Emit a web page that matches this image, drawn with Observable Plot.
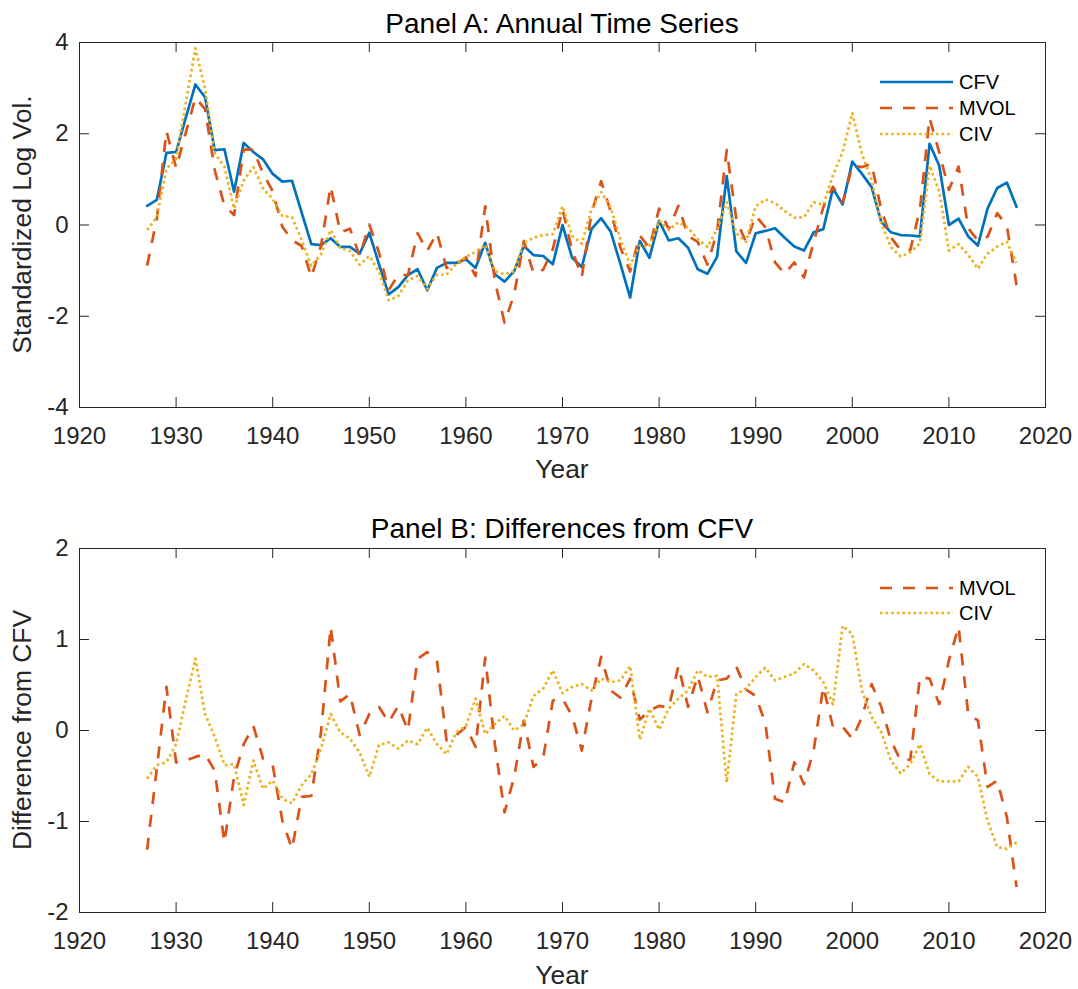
<!DOCTYPE html>
<html>
<head>
<meta charset="utf-8">
<script src="https://cdn.jsdelivr.net/npm/d3@7"></script>
<script src="https://cdn.jsdelivr.net/npm/@observablehq/plot@0.6"></script>
<style>
  html, body { margin: 0; padding: 0; background: #fff; }
  #chart svg { display: block; }
</style>
</head>
<body>
<div id="chart"></div>
<script>
// Annual observations, 1927–2017
const years = d3.range(1927, 2018);

// Panel A: standardized log volatility measures
const cfv = [
  0.42, 0.55, 1.58, 1.60, 2.35, 3.08, 2.80, 1.64, 1.66, 0.73,
  1.80, 1.60, 1.44, 1.12, 0.95, 0.97, 0.27, -0.42, -0.44, -0.29,
  -0.48, -0.48, -0.63, -0.17, -0.86, -1.52, -1.36, -1.10, -0.97, -1.43,
  -0.94, -0.83, -0.83, -0.75, -0.94, -0.39, -1.08, -1.24, -1.01, -0.46,
  -0.66, -0.68, -0.86, 0.00, -0.72, -0.92, -0.09, 0.15, -0.15, -0.86,
  -1.59, -0.35, -0.72, 0.09, -0.34, -0.29, -0.50, -0.97, -1.07, -0.70,
  1.07, -0.58, -0.83, -0.18, -0.13, -0.07, -0.28, -0.47, -0.56, -0.16,
  -0.09, 0.80, 0.45, 1.39, 1.12, 0.83, 0.07, -0.16, -0.22, -0.23,
  -0.25, 1.78, 1.30, 0.00, 0.14, -0.25, -0.45, 0.36, 0.81, 0.93,
  0.40
];
const mvol = [
  -0.89, 0.13, 2.06, 1.25, 2.02, 2.79, 2.54, 1.20, 0.43, 0.22,
  1.65, 1.65, 1.13, 0.74, -0.04, -0.33, -0.46, -1.14, -0.46, 0.85,
  -0.16, -0.08, -0.68, 0.01, -0.60, -1.43, -1.09, -1.10, -0.18, -0.57,
  -0.17, -0.94, -0.88, -0.71, -1.12, 0.41, -1.23, -2.14, -1.52, -0.35,
  -1.06, -0.98, -0.53, 0.35, -0.56, -1.14, 0.26, 0.96, 0.29, -0.50,
  -1.02, -0.23, -0.50, 0.36, -0.09, 0.42, -0.24, -0.37, -0.87, -0.15,
  1.64, 0.12, -0.38, 0.20, -0.05, -0.82, -1.07, -0.82, -1.15, -0.38,
  0.39, 0.84, 0.49, 1.30, 1.27, 1.34, 0.33, -0.27, -0.55, -0.55,
  0.34, 2.35, 1.59, 0.77, 1.28, -0.07, -0.34, -0.26, 0.26, -0.02,
  -1.32
];
const civ = [
  -0.11, 0.17, 1.23, 1.45, 2.68, 3.87, 2.98, 1.57, 1.28, 0.36,
  0.98, 1.27, 0.80, 0.57, 0.20, 0.17, -0.33, -0.90, -0.64, -0.11,
  -0.50, -0.57, -0.87, -0.68, -1.02, -1.65, -1.56, -1.21, -1.12, -1.40,
  -1.09, -1.09, -0.85, -0.70, -0.59, -0.43, -1.01, -1.08, -1.01, -0.39,
  -0.28, -0.22, -0.20, 0.41, -0.24, -0.41, 0.35, 0.72, 0.38, -0.31,
  -0.88, -0.45, -0.48, 0.10, -0.10, 0.06, -0.06, -0.31, -0.48, -0.10,
  0.50, -0.18, -0.37, 0.41, 0.56, 0.48, 0.31, 0.16, 0.17, 0.50,
  0.44, 1.09, 1.60, 2.45, 1.56, 0.98, 0.05, -0.49, -0.69, -0.60,
  -0.40, 1.30, 0.74, -0.56, -0.42, -0.65, -0.96, -0.63, -0.47, -0.37,
  -0.83
];

// Panel B: each measure minus CFV
const mvolDiff = [
  -1.31, -0.42, 0.48, -0.35, -0.33, -0.29, -0.26, -0.44, -1.23, -0.51,
  -0.15, 0.05, -0.31, -0.38, -0.99, -1.30, -0.73, -0.72, -0.02, 1.14,
  0.32, 0.40, -0.05, 0.18, 0.26, 0.09, 0.27, 0.00, 0.79, 0.86,
  0.77, -0.11, -0.05, 0.04, -0.18, 0.80, -0.15, -0.90, -0.51, 0.11,
  -0.40, -0.30, 0.33, 0.35, 0.16, -0.22, 0.35, 0.81, 0.44, 0.36,
  0.57, 0.12, 0.22, 0.27, 0.25, 0.71, 0.26, 0.60, 0.20, 0.55,
  0.57, 0.70, 0.45, 0.38, 0.08, -0.75, -0.79, -0.35, -0.59, -0.22,
  0.48, 0.04, 0.04, -0.09, 0.15, 0.51, 0.26, -0.11, -0.33, -0.32,
  0.59, 0.57, 0.29, 0.77, 1.14, 0.18, 0.11, -0.62, -0.55, -0.95,
  -1.72
];
const civDiff = [
  -0.53, -0.38, -0.35, -0.15, 0.33, 0.79, 0.18, -0.07, -0.38, -0.37,
  -0.82, -0.33, -0.64, -0.55, -0.75, -0.80, -0.60, -0.48, -0.20, 0.18,
  -0.02, -0.09, -0.24, -0.51, -0.16, -0.13, -0.20, -0.11, -0.15, 0.03,
  -0.15, -0.26, -0.02, 0.05, 0.35, -0.04, 0.07, 0.16, 0.00, 0.07,
  0.38, 0.46, 0.66, 0.41, 0.48, 0.51, 0.44, 0.57, 0.53, 0.55,
  0.71, -0.10, 0.24, 0.01, 0.24, 0.35, 0.44, 0.66, 0.59, 0.60,
  -0.57, 0.40, 0.46, 0.59, 0.69, 0.55, 0.59, 0.63, 0.73, 0.66,
  0.53, 0.29, 1.15, 1.06, 0.44, 0.15, -0.02, -0.33, -0.47, -0.37,
  -0.15, -0.48, -0.56, -0.56, -0.56, -0.40, -0.51, -0.99, -1.28, -1.30,
  -1.23
];

// Axis ticks
const xTicks = [1920, 1930, 1940, 1950, 1960, 1970, 1980, 1990, 2000, 2010, 2020];
const yTicksA = [-4, -2, 0, 2, 4];
const yTicksB = [-2, -1, 0, 1, 2];

// Series styles
const BLUE = "#0072BD", ORANGE = "#D95319", YELLOW = "#EDB120";
const DASH = "12,11", DOT = "2.6,3";
const LW = 2.7;
const INK = "#262626";
const FONT = "'Liberation Sans', Arial, Helvetica, sans-serif";
const W = 1078, ML = 79, MR = 33, TICK = 10;

const rows = values => years.map((year, i) => ({year, value: values[i]}));

function panel({height, marginTop, marginBottom, yDomain, yTicks, series}) {
  const innerW = W - ML - MR;
  const innerH = height - marginTop - marginBottom;
  return Plot.plot({
    width: W, height, marginTop, marginBottom, marginLeft: ML, marginRight: MR,
    style: {fontFamily: FONT, fontSize: "24px", color: INK, background: "#fff", overflow: "visible"},
    x: {domain: [1920, 2020], label: null},
    y: {domain: yDomain, label: null},
    marks: [
      Plot.axisX({ticks: xTicks, tickSize: 0, tickPadding: 19, tickFormat: d => String(d), fontSize: 24, fill: INK}),
      Plot.axisY({ticks: yTicks, tickSize: 0, tickPadding: 11, tickFormat: d => String(d), fontSize: 24, fill: INK}),
      // inward ticks on all four sides of the box
      Plot.ruleX(xTicks, {x: d => d, insetTop: innerH - TICK, stroke: INK}),
      Plot.ruleX(xTicks, {x: d => d, insetBottom: innerH - TICK, stroke: INK}),
      Plot.ruleY(yTicks, {y: d => d, insetRight: innerW - TICK, stroke: INK}),
      Plot.ruleY(yTicks, {y: d => d, insetLeft: innerW - TICK, stroke: INK}),
      ...series.map(s => Plot.line(rows(s.values), {
        x: "year", y: "value", stroke: s.color, strokeWidth: LW,
        strokeDasharray: s.dash, strokeLinecap: s.dash ? "butt" : "round", strokeLinejoin: "round"
      })),
      Plot.frame({stroke: INK, strokeWidth: 1})
    ]
  });
}

function decorate(svg, {title, titleY, ylabel, yCenter, xlabelY, legendY, legendStep, items}) {
  const s = d3.select(svg);
  const cx = ML + (W - ML - MR) / 2;
  s.append("text").attr("x", cx).attr("y", titleY).attr("text-anchor", "middle")
    .attr("font-size", 28).attr("fill", "#000").text(title);
  s.append("text").attr("x", cx).attr("y", xlabelY).attr("text-anchor", "middle")
    .attr("font-size", 26.4).attr("fill", INK).text("Year");
  s.append("text").attr("transform", `translate(31,${yCenter}) rotate(-90)`).attr("text-anchor", "middle")
    .attr("font-size", 26.4).attr("fill", INK).text(ylabel);
  const g = s.append("g").attr("text-anchor", "start");
  items.forEach((it, i) => {
    const y = legendY + i * legendStep;
    g.append("line").attr("x1", 880).attr("x2", 953).attr("y1", y).attr("y2", y)
      .attr("stroke", it.color).attr("stroke-width", LW)
      .attr("stroke-dasharray", it.dash || null).attr("stroke-linecap", "butt");
    g.append("text").attr("x", 959).attr("y", y).attr("dy", "0.35em").attr("text-anchor", "start")
      .attr("font-size", 20).attr("fill", "#000").text(it.label);
  });
  return svg;
}

const seriesA = [
  {label: "CFV", values: cfv, color: BLUE},
  {label: "MVOL", values: mvol, color: ORANGE, dash: DASH},
  {label: "CIV", values: civ, color: YELLOW, dash: DOT}
];
const seriesB = [
  {label: "MVOL", values: mvolDiff, color: ORANGE, dash: DASH},
  {label: "CIV", values: civDiff, color: YELLOW, dash: DOT}
];

const svgA = panel({height: 495, marginTop: 42, marginBottom: 88, yDomain: [-4, 4], yTicks: yTicksA, series: seriesA});
decorate(svgA, {title: "Panel A: Annual Time Series", titleY: 33, ylabel: "Standardized Log Vol.",
  yCenter: 224.5, xlabelY: 478, legendY: 82, legendStep: 26, items: seriesA});

const svgB = panel({height: 494, marginTop: 53, marginBottom: 77, yDomain: [-2, 2], yTicks: yTicksB, series: seriesB});
decorate(svgB, {title: "Panel B: Differences from CFV", titleY: 43, ylabel: "Difference from CFV",
  yCenter: 235, xlabelY: 489, legendY: 93, legendStep: 25, items: seriesB});

const chart = document.getElementById("chart");
chart.appendChild(svgA);
chart.appendChild(svgB);
</script>
</body>
</html>
